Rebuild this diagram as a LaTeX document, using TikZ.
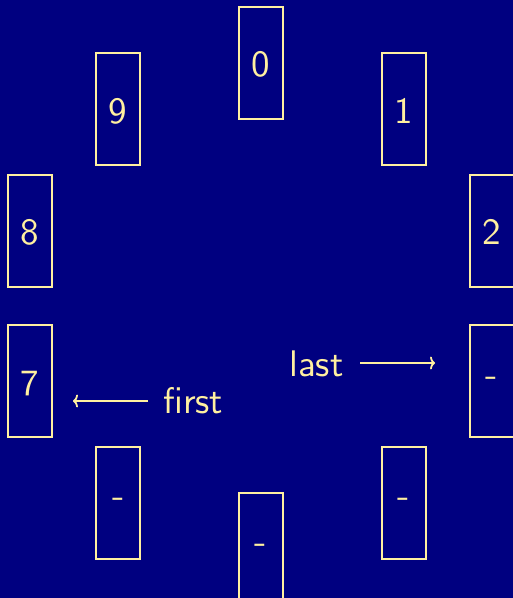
\documentclass[tikz,border=0pt]{standalone}
\usepackage{fontspec}
\usetikzlibrary{arrows.meta,calc}
\newfontfamily\tensans{lmsans10-regular}[Extension=.otf]
\definecolor{bg}{RGB}{0,0,128}
\definecolor{fg}{RGB}{255,240,160}
\newcommand{\hy}{\raisebox{9pt}{-}}
\begin{document}
\begin{tikzpicture}[x=1pt,y=1pt,
  slot/.style={draw=fg, line width=2pt, minimum width=44pt, minimum height=112pt,
    inner sep=0pt, text=fg, text height=28pt, text depth=0pt,
    font=\fontsize{37}{42}\selectfont\tensans},
  lbl/.style={text=fg, inner sep=0pt, font=\fontsize{37}{42}\selectfont\tensans},
  arr/.style={draw=fg, line width=1.8pt, -{To[length=5pt,width=13pt]}}]
\fill[bg] (0,0) rectangle (513,598);
\useasboundingbox (0,0) rectangle (513,598);
\foreach \k/\t in {0/0,1/1,2/2,3/\hy,4/\hy,5/\hy,6/\hy,7/7,8/8,9/9}{
  \node[slot] (b\k) at ($(261,292)+(90-36*\k:243)$) {\t};
}
\node[lbl, anchor=base west] (first) at (163,184) {first};
\node[lbl, anchor=base west] (last) at (289,221) {last};
\coordinate (fs) at (148,197);
\coordinate (fe) at (73,197);
\coordinate (ls) at (360,235);
\coordinate (le) at (435,235);
\draw[arr] (fs) -- (fe);
\draw[arr] (ls) -- (le);
\end{tikzpicture}
\end{document}
